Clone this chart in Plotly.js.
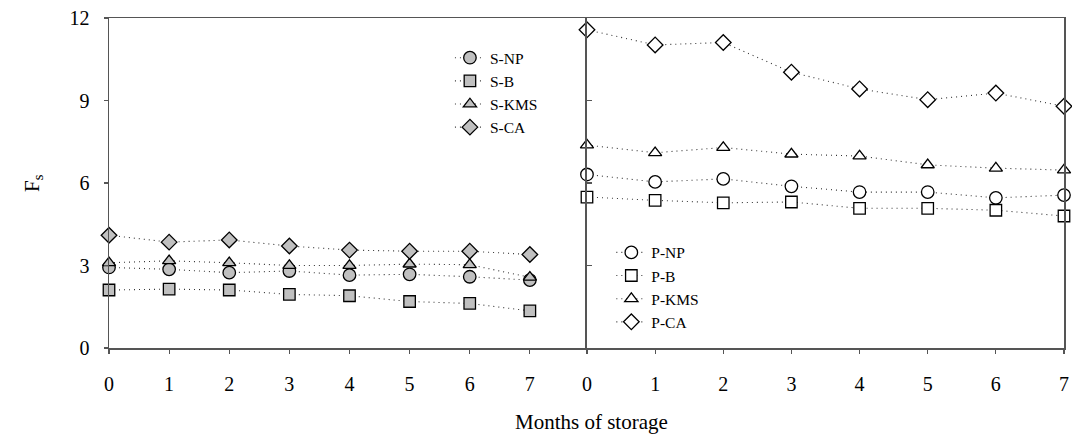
<!DOCTYPE html>
<html>
<head>
<meta charset="utf-8">
<script src="https://cdn.plot.ly/plotly-3.0.1.min.js"></script>
<style>html,body{margin:0;padding:0;background:#fff;}#chart{width:1072px;height:439px;}</style>
</head>
<body>
<div id="chart"></div>
<script>
var months = [0, 1, 2, 3, 4, 5, 6, 7];
var monthLabels = ["0", "1", "2", "3", "4", "5", "6", "7"];
var yTicks = [0, 3, 6, 9, 12];

var sNP  = [2.93, 2.86, 2.74, 2.80, 2.65, 2.68, 2.59, 2.47];
var sB   = [2.11, 2.14, 2.11, 1.95, 1.90, 1.69, 1.62, 1.35];
var sKMS = [3.10, 3.17, 3.10, 3.00, 3.00, 3.05, 3.03, 2.57];
var sCA  = [4.10, 3.85, 3.93, 3.71, 3.56, 3.52, 3.52, 3.40];

var pNP  = [6.31, 6.04, 6.15, 5.88, 5.67, 5.67, 5.46, 5.56];
var pB   = [5.49, 5.37, 5.28, 5.31, 5.08, 5.08, 5.01, 4.80];
var pKMS = [7.38, 7.10, 7.29, 7.05, 6.98, 6.66, 6.54, 6.47];
var pCA  = [11.57, 11.02, 11.11, 10.03, 9.42, 9.03, 9.27, 8.79];

var FONT = "Liberation Serif, Times New Roman, serif";
var lineStyle = {color: "#333", width: 1.1, dash: "1px,4px"};

function tr(name, y, sym, size, fill, xa, ya, leg) {
  return {
    type: "scatter", mode: "lines+markers", name: name,
    x: months, y: y, xaxis: xa, yaxis: ya, legend: leg,
    cliponaxis: false,
    line: lineStyle,
    marker: {symbol: sym, size: size, color: fill, line: {color: "#000", width: 1.3}}
  };
}

var grey = "#c0c0c0", white = "#ffffff";
var data = [
  tr("S-NP", sNP, "circle", 12.5, grey, "x", "y", "legend"),
  tr("S-B", sB, "square", 11.5, grey, "x", "y", "legend"),
  tr("S-KMS", sKMS, "triangle-up", 11.5, grey, "x", "y", "legend"),
  tr("S-CA", sCA, "diamond", 12, grey, "x", "y", "legend"),
  tr("P-NP", pNP, "circle", 12.5, white, "x2", "y2", "legend2"),
  tr("P-B", pB, "square", 11.5, white, "x2", "y2", "legend2"),
  tr("P-KMS", pKMS, "triangle-up", 11.5, white, "x2", "y2", "legend2"),
  tr("P-CA", pCA, "diamond", 12, white, "x2", "y2", "legend2")
];

var axLine = {showline: true, linecolor: "#555", linewidth: 1.5, showgrid: false, zeroline: false};
var tickFont = {family: FONT, size: 20, color: "#000"};
var split = 0.5005;

var layout = {
  width: 1072, height: 439,
  margin: {l: 109, r: 8, t: 18, b: 91},
  paper_bgcolor: "#fff", plot_bgcolor: "#fff",
  showlegend: true,
  font: {family: FONT, color: "#000"},
  xaxis: Object.assign({}, axLine, {
    domain: [0, split], range: [0, 7.95], anchor: "y",
    tickvals: months, ticktext: monthLabels, ticks: "outside", ticklen: 4, tickcolor: "#555", tickwidth: 1.2,
    tickfont: tickFont, ticklabelstandoff: 13, mirror: true
  }),
  xaxis2: Object.assign({}, axLine, {
    domain: [split, 1], range: [0, 7], anchor: "y2",
    tickvals: months, ticktext: monthLabels, ticks: "outside", ticklen: 4, tickcolor: "#555", tickwidth: 1.2,
    tickfont: tickFont, ticklabelstandoff: 13, mirror: true
  }),
  yaxis: Object.assign({}, axLine, {
    range: [0, 12], anchor: "x", tickvals: yTicks, ticks: "outside", ticklen: 4, tickcolor: "#555", tickwidth: 1.2,
    tickfont: tickFont, ticklabelstandoff: 10
  }),
  yaxis2: Object.assign({}, axLine, {
    range: [0, 12], anchor: "x2", tickvals: yTicks, ticks: "inside", ticklen: 5, tickcolor: "#555", tickwidth: 1.2,
    showticklabels: false, mirror: true
  }),
  yaxis3: {
    range: [0, 12], anchor: "x2", overlaying: "y2", side: "left", tickvals: yTicks,
    ticks: "outside", ticklen: 5, tickcolor: "#555", tickwidth: 1.2,
    showticklabels: false, showline: false, showgrid: false, zeroline: false
  },
  legend: {
    x: 0.357, y: 0.93, xanchor: "left", yanchor: "top", itemwidth: 30,
    font: {family: FONT, size: 15.5, color: "#000"}, bgcolor: "rgba(0,0,0,0)", borderwidth: 0
  },
  legend2: {
    x: 0.526, y: 0.34, xanchor: "left", yanchor: "top", itemwidth: 30,
    font: {family: FONT, size: 15.5, color: "#000"}, bgcolor: "rgba(0,0,0,0)", borderwidth: 0
  },
  annotations: [
    {text: "Months of storage", xref: "paper", yref: "paper", x: 0.505, y: -0.224,
     xanchor: "center", yanchor: "middle", showarrow: false, font: {family: FONT, size: 21, color: "#000"}},
    {text: "F<sub>s</sub>", xref: "paper", yref: "paper", x: -0.0796, y: 0.5, textangle: -90,
     xanchor: "center", yanchor: "middle", showarrow: false, font: {family: FONT, size: 21, color: "#000"}}
  ]
};

Plotly.newPlot("chart", data, layout, {staticPlot: true, displayModeBar: false});
</script>
</body>
</html>
